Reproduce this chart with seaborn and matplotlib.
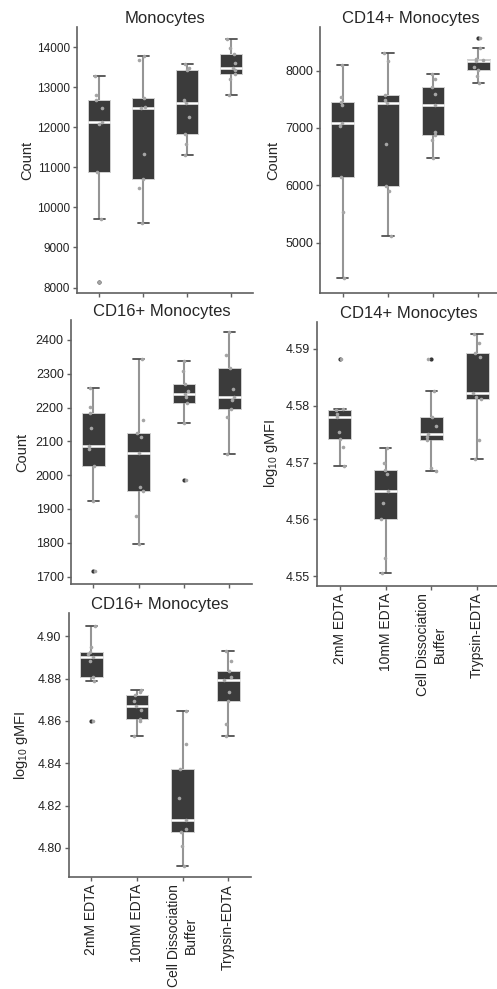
import numpy as np
import pandas as pd
import matplotlib
matplotlib.use("Agg")
import matplotlib.pyplot as plt
import seaborn as sns

groups = ["2mM EDTA", "10mM EDTA", "Cell Dissociation\nBuffer", "Trypsin-EDTA"]

# Monocytes (Count)
mono_2mm = [8150, 9711, 10874, 12072, 12130, 12487, 12678, 12795, 13285]
mono_10mm = [9619, 10492, 10700, 11323, 12479, 12500, 12720, 13667, 13767]
mono_cdb = [11315, 11573, 11830, 12254, 12595, 12670, 13426, 13476, 13568]
mono_tryp = [12811, 13194, 13335, 13420, 13485, 13600, 13825, 13975, 14200]

# CD14+ Monocytes (Count)
cd14c_2mm = [4384, 5535, 6140, 7029, 7087, 7407, 7453, 7541, 8093]
cd14c_10mm = [5116, 5901, 5988, 6715, 7429, 7494, 7576, 8163, 8308]
cd14c_cdb = [6477, 6797, 6884, 6930, 7407, 7587, 7709, 7849, 7942]
cd14c_tryp = [7785, 7900, 8006, 8064, 8160, 8180, 8209, 8395, 8570]

# CD16+ Monocytes (Count)
cd16c_2mm = [1715, 1924, 2028, 2077, 2087, 2139, 2185, 2201, 2258]
cd16c_10mm = [1796, 1879, 1954, 1966, 2065, 2114, 2126, 2163, 2343]
cd16c_cdb = [1986, 2155, 2213, 2230, 2239, 2250, 2270, 2309, 2338]
cd16c_tryp = [2063, 2173, 2197, 2222, 2230, 2254, 2318, 2355, 2424]

# CD14+ Monocytes (log10 gMFI)
cd14m_2mm = [4.5694, 4.5728, 4.5742, 4.5753, 4.5780, 4.5785, 4.5793, 4.5794, 4.5882]
cd14m_10mm = [4.5505, 4.5531, 4.5600, 4.5629, 4.5650, 4.5679, 4.5687, 4.5700, 4.5725]
cd14m_cdb = [4.5685, 4.5691, 4.5740, 4.5745, 4.5751, 4.5765, 4.5780, 4.5826, 4.5882]
cd14m_tryp = [4.5707, 4.5740, 4.5811, 4.5815, 4.5823, 4.5886, 4.5892, 4.5911, 4.5927]

# CD16+ Monocytes (log10 gMFI)
cd16m_2mm = [4.8602, 4.8791, 4.8808, 4.8882, 4.8901, 4.8915, 4.8926, 4.8948, 4.9050]
cd16m_10mm = [4.8531, 4.8600, 4.8611, 4.8650, 4.8669, 4.8693, 4.8721, 4.8735, 4.8748]
cd16m_cdb = [4.7915, 4.8008, 4.8075, 4.8090, 4.8134, 4.8236, 4.8375, 4.8490, 4.8645]
cd16m_tryp = [4.8528, 4.8587, 4.8693, 4.8737, 4.8792, 4.8806, 4.8835, 4.8885, 4.8929]

sns.set_style("ticks")
plt.rcParams['font.family'] = ['Liberation Sans', 'DejaVu Sans']
plt.rcParams['mathtext.default'] = 'regular'

W, H = 497, 989
fig = plt.figure(figsize=(W / 100, H / 100), dpi=100)


def rect(l, r, t, b):
    return [l / W, 1 - b / H, (r - l) / W, (b - t) / H]


panels = [
    dict(title="Monocytes", ylabel="Count",
         data=[mono_2mm, mono_10mm, mono_cdb, mono_tryp],
         ylim=(7865, 14500), yticks=np.arange(8000, 14001, 1000), fmt="{:.0f}",
         box=(77, 253, 27, 293), labx=34, xlab=False, tsize=8.5),
    dict(title="CD14+ Monocytes", ylabel="Count",
         data=[cd14c_2mm, cd14c_10mm, cd14c_cdb, cd14c_tryp],
         ylim=(4120, 8760), yticks=np.arange(5000, 8001, 1000), fmt="{:.0f}",
         box=(320, 501, 27, 293), labx=280, xlab=False, tsize=9),
    dict(title="CD16+ Monocytes", ylabel="Count",
         data=[cd16c_2mm, cd16c_10mm, cd16c_cdb, cd16c_tryp],
         ylim=(1678, 2459), yticks=np.arange(1700, 2401, 100), fmt="{:.0f}",
         box=(70.7, 252, 320, 584), labx=29, xlab=False, tsize=9),
    dict(title="CD14+ Monocytes", ylabel="log$_{10}$ gMFI",
         data=[cd14m_2mm, cd14m_10mm, cd14m_cdb, cd14m_tryp],
         ylim=(4.5483, 4.5948), yticks=np.arange(4.55, 4.5901, 0.01), fmt="{:.2f}",
         box=(317, 500, 321.7, 585.7), labx=280, xlab=True, tsize=9),
    dict(title="CD16+ Monocytes", ylabel="log$_{10}$ gMFI",
         data=[cd16m_2mm, cd16m_10mm, cd16m_cdb, cd16m_tryp],
         ylim=(4.7863, 4.911), yticks=np.arange(4.80, 4.9001, 0.02), fmt="{:.2f}",
         box=(68.5, 251, 613, 877), labx=30, xlab=True, tsize=9),
]

np.random.seed(3)
for p in panels:
    l, r, t, b = p["box"]
    ax = fig.add_axes(rect(l, r, t, b))
    rows = []
    for g, vals in zip(groups, p["data"]):
        for v in vals:
            rows.append((g, v))
    df = pd.DataFrame(rows, columns=["group", "value"])
    sns.boxplot(data=df, x="group", y="value", order=groups, ax=ax,
                width=0.5, color="#3b3b3b", saturation=1, linecolor="#959595",
                linewidth=1.3, fliersize=2,
                boxprops=dict(facecolor="#3b3b3b", edgecolor="#d0d0d0", linewidth=0.7),
                medianprops=dict(color="white", linewidth=1.8),
                whiskerprops=dict(color="#959595", linewidth=1.5),
                capprops=dict(color="#505050", linewidth=1.3),
                flierprops=dict(marker="o", markerfacecolor="#333333",
                                markeredgecolor="#333333", markersize=2))
    sns.stripplot(data=df, x="group", y="value", order=groups, ax=ax,
                  color="#a5a5a5", size=2.6, jitter=0.1, zorder=4, linewidth=0)
    ax.set_ylim(*p["ylim"])
    ax.set_xlim(-0.5, 3.5)
    ax.set_yticks(p["yticks"])
    ax.set_yticklabels([p["fmt"].format(v) for v in p["yticks"]], fontsize=p["tsize"])
    ax.set_xlabel("")
    ax.set_xticks(range(4))
    if p["xlab"]:
        ax.set_xticklabels(groups, rotation=90, fontsize=10, multialignment="center")
    else:
        ax.set_xticklabels([])
    ax.set_ylabel(p["ylabel"], fontsize=10.5)
    ax.yaxis.set_label_coords((p["labx"] - l) / (r - l), 0.5)
    ax.set_title(p["title"], fontsize=12, pad=3)
    sns.despine(ax=ax)
    for s in ["left", "bottom"]:
        ax.spines[s].set_color("#606060")
        ax.spines[s].set_linewidth(1.2)
    ax.tick_params(axis="both", length=3, width=1, color="#606060", colors="#222222", pad=2)

fig.savefig("out.png", dpi=100)
